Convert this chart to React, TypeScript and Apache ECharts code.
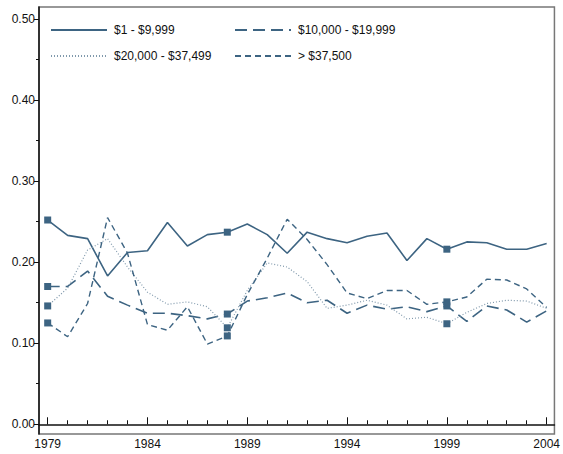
import React, { useEffect, useRef } from "react";
import * as echarts from "echarts";

const years = [1979, 1980, 1981, 1982, 1983, 1984, 1985, 1986, 1987, 1988, 1989, 1990, 1991, 1992, 1993, 1994, 1995, 1996, 1997, 1998, 1999, 2000, 2001, 2002, 2003, 2004];
const labelYears = [1979, 1984, 1989, 1994, 1999, 2004];
const markerYears = [1979, 1988, 1999];
const yLabels = [0, 0.1, 0.2, 0.3, 0.4, 0.5];
const yMinorTicks = [0, 0.05, 0.1, 0.15, 0.2, 0.25, 0.3, 0.35, 0.4, 0.45, 0.5];

const names = ["$1 - $9,999", "$10,000 - $19,999", "$20,000 - $37,499", "> $37,500"];
const s1 = [0.252, 0.233, 0.229, 0.183, 0.212, 0.214, 0.249, 0.220, 0.234, 0.237, 0.247, 0.234, 0.211, 0.237, 0.229, 0.224, 0.232, 0.236, 0.202, 0.229, 0.216, 0.225, 0.224, 0.216, 0.216, 0.223];
const s2 = [0.170, 0.170, 0.189, 0.158, 0.147, 0.137, 0.137, 0.134, 0.130, 0.136, 0.152, 0.156, 0.162, 0.150, 0.153, 0.137, 0.147, 0.142, 0.145, 0.139, 0.146, 0.127, 0.146, 0.141, 0.126, 0.140];
const s3 = [0.146, 0.168, 0.215, 0.229, 0.194, 0.163, 0.148, 0.151, 0.145, 0.119, 0.165, 0.199, 0.194, 0.176, 0.143, 0.147, 0.153, 0.147, 0.130, 0.132, 0.124, 0.138, 0.149, 0.153, 0.152, 0.143];
const s4 = [0.125, 0.108, 0.149, 0.255, 0.211, 0.123, 0.116, 0.145, 0.099, 0.109, 0.160, 0.205, 0.253, 0.228, 0.197, 0.162, 0.155, 0.165, 0.165, 0.148, 0.151, 0.157, 0.179, 0.178, 0.167, 0.144];

const DARK = "#3d6482";
const LIGHT = "#8099ac";
const FONT = "Liberation Sans, Arial, sans-serif";

export default function App() {
  const ref = useRef<HTMLDivElement>(null);
  useEffect(() => {
    if (!ref.current) return;
    const chart = echarts.init(ref.current, null, { renderer: "svg" });
    const all = [s1, s2, s3, s4];
    const styles = [
      { color: DARK, width: 1.6, type: "solid" as any },
      { color: DARK, width: 1.6, type: [12, 6] as any },
      { color: LIGHT, width: 1.2, type: [1, 2] as any },
      { color: DARK, width: 1.4, type: [6, 4] as any },
    ];
    const lineSeries = all.map((vals, i) => ({
      name: names[i],
      type: "line",
      data: years.map((y, k) => [y, vals[k]]),
      symbol: "none",
      lineStyle: styles[i],
      itemStyle: { color: styles[i].color },
      z: 2,
    }));
    const markerSeries = all.map((vals, i) => ({
      name: "m" + i,
      type: "scatter",
      data: markerYears.map((y) => [y, vals[years.indexOf(y)]]),
      symbol: "rect",
      symbolSize: 7,
      itemStyle: { color: DARK, opacity: 1 },
      z: 3,
    }));
    const xMin = 1978.565;
    const xMax = 2004.39;
    const yMin = -0.012;
    const yMax = 0.5148;
    const legendBase = {
      orient: "vertical",
      top: 24,
      padding: 0,
      itemWidth: 56,
      itemHeight: 14,
      itemGap: 14,
      itemStyle: { opacity: 0 },
      textStyle: { fontSize: 12, color: "#111", fontFamily: FONT, padding: [0, 0, 0, 2] },
    };
    chart.setOption({
      animation: false,
      textStyle: { fontFamily: FONT },
      grid: {
        left: 39,
        right: 7.5,
        top: 7,
        bottom: 20,
        show: true,
        borderColor: "#777",
        borderWidth: 1.5,
      },
      legend: [
        { ...legendBase, data: [names[0], names[2]], left: 50 },
        { ...legendBase, data: [names[1], names[3]], left: 234 },
      ],
      xAxis: [
        {
          type: "value",
          min: xMin,
          max: xMax,
          axisLine: { lineStyle: { color: "#111", width: 1.5 } },
          axisTick: { inside: true, length: 7, customValues: labelYears, lineStyle: { color: "#111" } },
          axisLabel: {
            customValues: labelYears,
            color: "#111",
            fontSize: 12,
            fontFamily: FONT,
            margin: 4,
            formatter: (v: number) => String(Math.round(v)),
          },
          splitLine: { show: false },
        },
        {
          type: "value",
          min: xMin,
          max: xMax,
          position: "bottom",
          axisLine: { show: false },
          axisTick: { inside: true, length: 4, customValues: years, lineStyle: { color: "#111" } },
          axisLabel: { show: false },
          splitLine: { show: false },
        },
      ],
      yAxis: [
        {
          type: "value",
          min: yMin,
          max: yMax,
          axisLine: { show: true, lineStyle: { color: "#111", width: 1.5 } },
          axisTick: { show: true, length: 5, customValues: yLabels, lineStyle: { color: "#111" } },
          axisLabel: {
            customValues: yLabels,
            color: "#111",
            fontSize: 12,
            fontFamily: FONT,
            margin: 4,
            formatter: (v: number) => v.toFixed(2),
          },
          splitLine: { show: false },
        },
        {
          type: "value",
          min: yMin,
          max: yMax,
          position: "left",
          axisLine: { show: false },
          axisTick: { show: true, length: 3, customValues: yMinorTicks, lineStyle: { color: "#111" } },
          axisLabel: { show: false },
          splitLine: { show: false },
        },
      ],
      series: [...lineSeries, ...markerSeries],
    });
    return () => chart.dispose();
  }, []);
  return <div ref={ref} style={{ width: 563, height: 454, position: "fixed", left: 0, top: 0, background: "#fff" }} />;
}
